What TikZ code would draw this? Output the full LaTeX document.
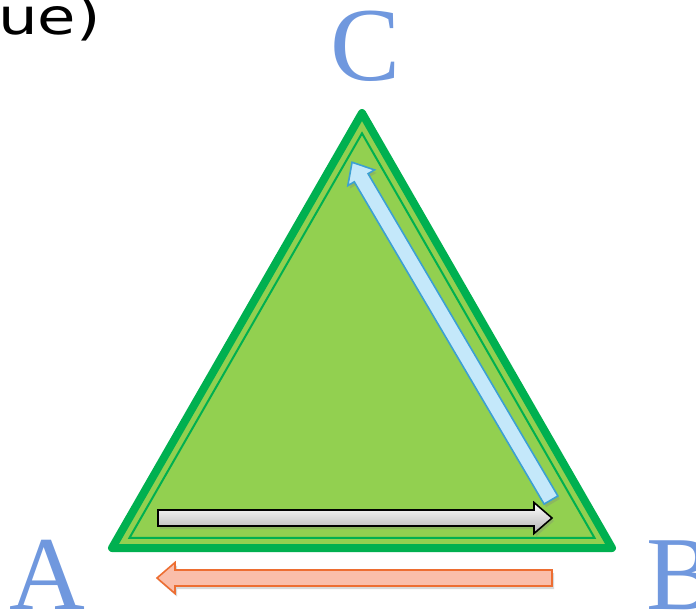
\documentclass[tikz,border=0pt]{standalone}
\usepackage{fontspec}
\setmainfont{Liberation Serif}
\newfontfamily\sansfam{DejaVu Sans}
\usetikzlibrary{calc,shadows}
\definecolor{darkgreen}{RGB}{0,176,80}
\definecolor{lightgreen}{RGB}{146,208,80}
\definecolor{letterblue}{RGB}{112,152,222}
\definecolor{blueline}{RGB}{60,160,210}
\definecolor{bluefill}{RGB}{196,232,250}
\definecolor{orangeline}{RGB}{237,110,50}
\definecolor{orangefill}{RGB}{250,190,170}
\tikzset{
  letter/.style={font=\fontsize{105}{105}\selectfont, text=letterblue, inner sep=0pt},
  arrowshadow/.style={drop shadow={opacity=0.3, shadow xshift=2pt, shadow yshift=-3pt}},
  grayarrow/.style={draw=black, line width=1.6pt, top color=white, bottom color=gray!60, arrowshadow},
  bluearrow/.style={draw=blueline, line width=1.6pt, fill=bluefill, arrowshadow},
  orangearrow/.style={draw=orangeline, line width=1.6pt, fill=orangefill, arrowshadow},
}
% block arrow: #1 style, #2 start, #3 angle, #4 length
\newcommand{\blockarrow}[4]{%
  \begin{scope}[shift={#2}, rotate=#3]
    \path[#1] (0,-8) -- (#4-18,-8) -- (#4-18,-15.5) -- (#4,0) -- (#4-18,15.5) -- (#4-18,8) -- (0,8) -- cycle;
  \end{scope}}
\begin{document}
\begin{tikzpicture}[x=1pt,y=-1pt]
\useasboundingbox (0,0) rectangle (696,614);
% triangle
\coordinate (top) at (362,113);
\coordinate (bl) at (112,548);
\coordinate (br) at (612,548);
\coordinate (inc) at (362,403.2);
\draw[darkgreen, line width=8pt, line join=round, fill=lightgreen] (top) -- (bl) -- (br) -- cycle;
\coordinate (itop) at ($(inc)!0.93!(top)$);
\coordinate (ibl) at ($(inc)!0.93!(bl)$);
\coordinate (ibr) at ($(inc)!0.93!(br)$);
\draw[darkgreen, line width=2pt, line join=miter] (itop) -- (ibl) -- (ibr) -- cycle;
% arrows
\blockarrow{grayarrow}{(158,518)}{0}{394}
\blockarrow{bluearrow}{(551,500)}{120.5}{392}
\blockarrow{orangearrow}{(552,578)}{180}{395}
% labels
\node[letter, anchor=base] (C) at (366,80) {C};
\node[letter, anchor=base] (A) at (47,609) {A};
\node[letter, anchor=base west] (B) at (646,609) {B};
\node[font=\sansfam\fontsize{50}{50}\selectfont, anchor=base west, inner sep=0pt, xscale=1.25] (T) at (-2,34) {ue)};
\end{tikzpicture}
\end{document}
